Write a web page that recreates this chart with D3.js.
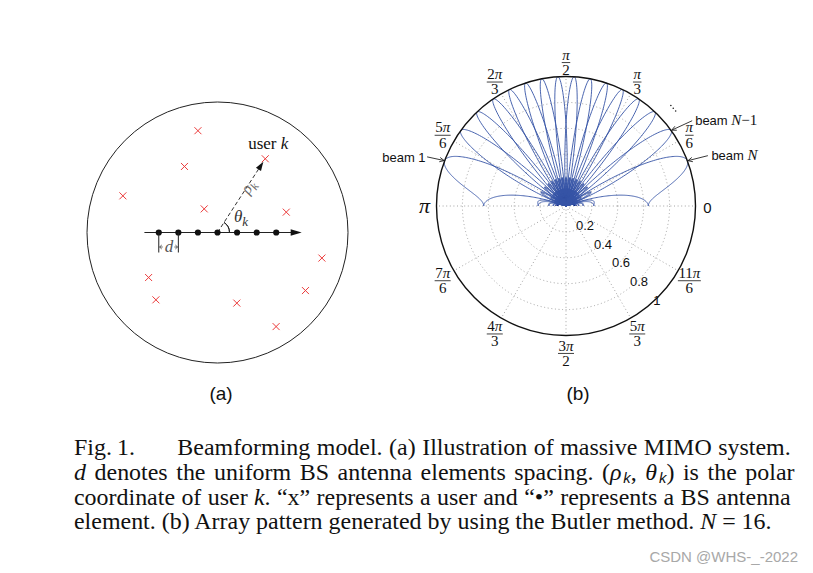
<!DOCTYPE html>
<html><head><meta charset="utf-8">
<script src="https://cdn.jsdelivr.net/npm/d3@7"></script>
<style>body{margin:0;background:#fff}svg{display:block}</style>
</head><body>
<svg id="c" width="813" height="573"></svg>
<script>
// ---------------- data ----------------
// Panel (a): user positions, in units of the cell radius (origin = array centre)
const userX = [-0.150, 0.366, -0.253, -0.725, -0.102, 0.527, 0.800, -0.528, 0.674, -0.472, 0.148, 0.449];
const userY = [ 0.780, 0.565,  0.506,  0.281,  0.181, 0.156, -0.196, -0.345, -0.445, -0.516, -0.541, -0.721];
const userKIndex = 1;
const elementIdx = [-3, -2, -1, 0, 1, 2, 3];
const elementSpacing = 0.150;          // d, in cell-radius units
const arrayAxisExtent = [-0.56, 0.645];

// Panel (b): Butler beams, N = 16, peak directions (degrees)
const N = 16;
const beamPeakDeg = [159.6, 144.3, 133.4, 124.2, 115.9, 108.2, 100.8, 93.6,
                     86.4, 79.2, 71.8, 64.1, 55.8, 46.6, 35.7, 20.4];
const angleTickDeg = [0, 30, 60, 90, 120, 150, 180, 210, 240, 270, 300, 330];
const angleTickLabels = ["0","π/6","π/3","π/2","2π/3","5π/6","π","7π/6","4π/3","3π/2","5π/3","11π/6"];
const radialTicks = [0.2, 0.4, 0.6, 0.8, 1];
const radialTickLabels = ["0.2","0.4","0.6","0.8","1"];

const captionFig = ["Fig.", "1."];
const captionLine1Rest = "Beamforming model. (a) Illustration of massive MIMO system.";
const captionLines = [
  [["d","i"],[" denotes the uniform BS antenna elements spacing. (",""],["ρ","i"],["k","sub"],[", ",""],["θ","i"],["k","sub"],[") is the polar",""]],
  [["coordinate of user ",""],["k","i"],[". “x” represents a user and “•” represents a BS antenna",""]],
  [["element. (b) Array pattern generated by using the Butler method. ",""],["N","i"],[" = 16.",""]]
];

// ---------------- drawing ----------------
const svg = d3.select("#c");
const SERIF = "'Liberation Serif','Times New Roman',serif";
const SANS = "'Liberation Sans',Arial,sans-serif";

// ===== Panel (a) =====
const aCx = 217.5, aCy = 232.5, aR = 130.5;
const ax = d3.scaleLinear().domain([-1, 1]).range([aCx - aR, aCx + aR]);
const ay = d3.scaleLinear().domain([-1, 1]).range([aCy + aR, aCy - aR]);
const gA = svg.append("g");

gA.append("circle").attr("cx", ax(0)).attr("cy", ay(0)).attr("r", ax(1) - ax(0))
  .attr("fill", "none").attr("stroke", "#222").attr("stroke-width", 1);

// array axis with arrow
const axY = ay(0);
const axEnd = ax(arrayAxisExtent[1]);
gA.append("line").attr("x1", ax(arrayAxisExtent[0])).attr("x2", axEnd - 8)
  .attr("y1", axY).attr("y2", axY).attr("stroke", "#222").attr("stroke-width", 1);
gA.append("path").attr("d", `M${axEnd},${axY}L${axEnd-11},${axY-3.3}L${axEnd-11},${axY+3.3}Z`).attr("fill", "#111");

// users (red crosses)
const users = userX.map((x, i) => ({x, y: userY[i]}));
gA.selectAll("path.user").data(users).join("path").attr("class", "user")
  .attr("transform", d => `translate(${ax(d.x)},${ay(d.y)})`)
  .attr("d", "M-3.5,-3.5L3.5,3.5M-3.5,3.5L3.5,-3.5")
  .attr("stroke", "#ec3b3b").attr("stroke-width", 1).attr("fill", "none");

// dashed arrow to user k
const uk = users[userKIndex];
const ox = ax(0), oy = ay(0);
const ukx = ax(uk.x), uky = ay(uk.y);
const ang = Math.atan2(uky - oy, ukx - ox);
const tipX = ukx - 3.5 * Math.cos(ang), tipY = uky - 3.5 * Math.sin(ang);
gA.append("line").attr("x1", ox).attr("y1", oy)
  .attr("x2", tipX - 6 * Math.cos(ang)).attr("y2", tipY - 6 * Math.sin(ang))
  .attr("stroke", "#333").attr("stroke-width", 1).attr("stroke-dasharray", "4,2.5");
{
  const L = 9, W = 3;
  const bx = tipX - L * Math.cos(ang), by = tipY - L * Math.sin(ang);
  const px = -Math.sin(ang) * W, py = Math.cos(ang) * W;
  gA.append("path").attr("d", `M${tipX},${tipY}L${bx+px},${by+py}L${bx-px},${by-py}Z`).attr("fill", "#111");
}
// theta arc
{
  const r = 12;
  const arc = d3.arc()({innerRadius: r, outerRadius: r, startAngle: Math.PI / 2 + ang, endAngle: Math.PI / 2});
  gA.append("path").attr("transform", `translate(${ox},${oy})`).attr("d", arc)
    .attr("fill", "none").attr("stroke", "#222").attr("stroke-width", 1);
}

// antenna elements
gA.selectAll("circle.el").data(elementIdx).join("circle").attr("class", "el")
  .attr("cx", d => ax(d * elementSpacing)).attr("cy", axY).attr("r", 3.1).attr("fill", "#111");

// d spacing marker
{
  const x1 = ax(elementIdx[0] * elementSpacing), x2 = ax(elementIdx[1] * elementSpacing);
  [x1, x2].forEach(x => gA.append("line").attr("x1", x).attr("x2", x).attr("y1", axY).attr("y2", axY + 20)
    .attr("stroke", "#222").attr("stroke-width", 1));
  const yy = axY + 14.5;
  gA.append("path").attr("d", `M${x1+4},${yy}L${x1+0.8},${yy}M${x1+3},${yy-2}L${x1+0.8},${yy}L${x1+3},${yy+2}`)
    .attr("stroke", "#444").attr("fill", "none").attr("stroke-width", 0.8);
  gA.append("path").attr("d", `M${x2-4},${yy}L${x2-0.8},${yy}M${x2-3},${yy-2}L${x2-0.8},${yy}L${x2-3},${yy+2}`)
    .attr("stroke", "#444").attr("fill", "none").attr("stroke-width", 0.8);
  gA.append("text").attr("x", (x1 + x2) / 2 + 0.5).attr("y", axY + 19).attr("text-anchor", "middle")
    .attr("font-family", SERIF).attr("font-style", "italic").attr("font-size", 17).attr("fill", "#555").text("d");
}

// rho_k label rotated along the dashed line
{
  const mx = ox + 0.62 * (ukx - ox) + 1, my = oy + 0.62 * (uky - oy);
  const t = gA.append("text").attr("transform", `translate(${mx},${my}) rotate(${ang * 180 / Math.PI})`)
    .attr("text-anchor", "middle").attr("dy", 5).attr("font-family", SERIF).attr("font-style", "italic")
    .attr("font-size", 16).attr("fill", "#666");
  t.append("tspan").text("ρ");
  t.append("tspan").attr("font-size", 12).attr("dy", 4).text("k");
}
// theta_k
{
  const t = gA.append("text").attr("x", ox + 16.5).attr("y", oy - 10.5)
    .attr("font-family", SERIF).attr("font-style", "italic").attr("font-size", 17).attr("fill", "#333");
  t.append("tspan").text("θ");
  t.append("tspan").attr("font-size", 13).attr("dy", 4).text("k");
}
// user k
{
  const t = gA.append("text").attr("x", ukx + 3).attr("y", uky - 10).attr("text-anchor", "middle")
    .attr("font-family", SERIF).attr("font-size", 17).attr("fill", "#111");
  t.append("tspan").text("user ");
  t.append("tspan").attr("font-style", "italic").text("k");
}

// ===== Panel (b) =====
const cx = 566, cy = 206, R = 129.5;
const rS = d3.scaleLinear().domain([0, 1]).range([0, R]);
const aS = d3.scaleLinear().domain([0, 360]).range([0, 2 * Math.PI]);
const px = (r, a) => cx + rS(r) * Math.cos(a);
const py = (r, a) => cy - rS(r) * Math.sin(a);
const gB = svg.append("g");

// grid
gB.selectAll("circle.grid").data(radialTicks.slice(0, -1)).join("circle").attr("class", "grid")
  .attr("cx", cx).attr("cy", cy).attr("r", d => rS(d)).attr("fill", "none")
  .attr("stroke", "#9a9a9a").attr("stroke-width", 0.9).attr("stroke-dasharray", "1,2.6");
gB.selectAll("line.spoke").data(angleTickDeg).join("line").attr("class", "spoke")
  .attr("x1", cx).attr("y1", cy).attr("x2", d => px(1, aS(d))).attr("y2", d => py(1, aS(d)))
  .attr("stroke", "#9a9a9a").attr("stroke-width", 0.9).attr("stroke-dasharray", "1,2.6");

// beams (array factor of an N-element half-wavelength ULA steered to each Butler beam)
const thetaSamples = d3.range(0, 180.0001, 0.2);
function afValue(thDeg, peakDeg) {
  const psi = Math.PI * (Math.cos(aS(thDeg)) - Math.cos(aS(peakDeg)));
  const den = N * Math.sin(psi / 2);
  if (Math.abs(den) < 1e-9) return 1;
  return Math.abs(Math.sin(N * psi / 2) / den);
}
const beamLine = d3.line().x(d => px(d.r, aS(d.t))).y(d => py(d.r, aS(d.t)));
const beams = beamPeakDeg.map(p => thetaSamples.map(t => ({t, r: afValue(t, p)})));
gB.selectAll("path.beam").data(beams).join("path").attr("class", "beam")
  .attr("d", beamLine).attr("fill", "none").attr("stroke", "#3553a6").attr("stroke-width", 0.9);

// outer circle
gB.append("circle").attr("cx", cx).attr("cy", cy).attr("r", rS(1)).attr("fill", "none")
  .attr("stroke", "#111").attr("stroke-width", 1.4);

// angle labels
angleTickDeg.forEach((deg, i) => {
  const a = aS(deg);
  const lab = angleTickLabels[i];
  const x = px(1.1, a), y = py(1.1, a) + 1.5 - 3 * Math.sin(a);
  if (lab === "0") {
    gB.append("text").attr("x", x - 1).attr("y", y + 5).attr("text-anchor", "middle")
      .attr("font-family", SANS).attr("font-size", 15).attr("fill", "#111").text("0");
    return;
  }
  if (lab === "π") {
    gB.append("text").attr("x", x + 1).attr("y", y + 5).attr("text-anchor", "middle")
      .attr("font-family", SERIF).attr("font-style", "italic").attr("font-size", 22).attr("fill", "#111").text("π");
    return;
  }
  const [num, den] = lab.split("/");
  const g = gB.append("g").attr("transform", `translate(${x},${y})`);
  const tn = g.append("text").attr("y", -2.3).attr("text-anchor", "middle")
    .attr("font-family", SERIF).attr("font-size", 15).attr("fill", "#111");
  const coef = num.replace("π", "");
  if (coef) tn.append("tspan").text(coef);
  tn.append("tspan").attr("font-style", "italic").text("π");
  const td = g.append("text").attr("y", 12.8).attr("text-anchor", "middle")
    .attr("font-family", SERIF).attr("font-size", 15).attr("fill", "#111").text(den);
  const w = Math.max(tn.node().getComputedTextLength(), td.node().getComputedTextLength()) + 1;
  g.append("line").attr("x1", -w / 2).attr("x2", w / 2).attr("y1", 0.5).attr("y2", 0.5)
    .attr("stroke", "#111").attr("stroke-width", 0.8);
});

// radial tick labels
radialTicks.forEach((r, i) => {
  const a = aS(-46);
  gB.append("text").attr("x", px(r, a) + 1).attr("y", py(r, a) + 5.5).attr("text-anchor", "middle")
    .attr("font-family", SANS).attr("font-size", 13).attr("fill", "#111").text(radialTickLabels[i]);
});

// beam annotations
function arrow(x1, y1, x2, y2) {
  const a = Math.atan2(y2 - y1, x2 - x1), L = 4.5, W = 2.2;
  const bx = x2 - L * Math.cos(a), by = y2 - L * Math.sin(a);
  const nx = -Math.sin(a) * W, ny = Math.cos(a) * W;
  gB.append("path").attr("d", `M${x1},${y1}L${x2},${y2}M${bx+nx},${by+ny}L${x2},${y2}L${bx-nx},${by-ny}`)
    .attr("fill", "none").attr("stroke", "#222").attr("stroke-width", 0.9);
}
{
  const t1 = {x: px(1, aS(beamPeakDeg[0])), y: py(1, aS(beamPeakDeg[0]))};
  const tN1 = {x: px(1, aS(beamPeakDeg[N - 2])), y: py(1, aS(beamPeakDeg[N - 2]))};
  const tN = {x: px(1, aS(beamPeakDeg[N - 1])), y: py(1, aS(beamPeakDeg[N - 1]))};
  gB.append("text").attr("x", t1.x - 19).attr("y", t1.y + 1.5).attr("text-anchor", "end")
    .attr("font-family", SANS).attr("font-size", 13).attr("fill", "#111").text("beam 1");
  arrow(t1.x - 17.5, t1.y - 4, t1.x - 0.5, t1.y - 0.3);

  const a2 = gB.append("text").attr("x", tN1.x + 24).attr("y", tN1.y - 5.5)
    .attr("font-family", SANS).attr("font-size", 13).attr("fill", "#111");
  a2.append("tspan").text("beam ");
  a2.append("tspan").attr("font-family", SERIF).attr("font-style", "italic").attr("font-size", 15).text("N");
  a2.append("tspan").attr("font-family", SERIF).attr("font-size", 15).text("−1");
  arrow(tN1.x + 21, tN1.y - 9.7, tN1.x + 0.6, tN1.y - 0.3);

  const a3 = gB.append("text").attr("x", tN.x + 24).attr("y", tN.y - 0.5)
    .attr("font-family", SANS).attr("font-size", 13).attr("fill", "#111");
  a3.append("tspan").text("beam ");
  a3.append("tspan").attr("font-family", SERIF).attr("font-style", "italic").attr("font-size", 15).text("N");
  arrow(tN.x + 20.5, tN.y - 5.2, tN.x + 0.6, tN.y - 0.2);

  // diagonal ellipsis between beam N-2 and N-1 labels
  [0, 1, 2].forEach(k => gB.append("circle").attr("cx", tN1.x - 0.3 + 2.4 * k).attr("cy", tN1.y - 25 + 2.8 * k)
    .attr("r", 0.8).attr("fill", "#222"));
}

// panel labels
svg.append("text").attr("x", 221).attr("y", 400).attr("text-anchor", "middle")
  .attr("font-family", SANS).attr("font-size", 19).attr("fill", "#111").text("(a)");
svg.append("text").attr("x", 578).attr("y", 400).attr("text-anchor", "middle")
  .attr("font-family", SANS).attr("font-size", 19).attr("fill", "#111").text("(b)");

// ===== caption =====
const capX = 74, capRight = 790.7;
const capY = [455, 479.8, 504.6, 529.4];
const capG = svg.append("g");
function buildLine(segs, x, y, fs) {
  const t = capG.append("text").attr("x", x).attr("y", y).attr("font-family", SERIF)
    .attr("font-size", fs).attr("fill", "#111");
  let shifted = false;
  segs.forEach(([txt, st]) => {
    const s = t.append("tspan").text(txt);
    if (st === "i") s.attr("font-style", "italic");
    if (st === "sub") {
      s.attr("font-style", "italic").attr("font-family", SANS).attr("font-size", fs * 0.62)
        .attr("dy", fs * 0.12).attr("dx", fs * 0.08);
      shifted = true;
    } else if (shifted) { s.attr("dy", -fs * 0.12); shifted = false; }
  });
  return t;
}
function justify(t, target) {
  const w = t.node().getComputedTextLength();
  const nSp = (t.text().match(/ /g) || []).length;
  if (nSp > 0) t.attr("word-spacing", (target - w) / nSp);
}
// pick a font size so the last (unjustified) line spans as in the reference
let fs = 20;
{
  const probe = buildLine(captionLines[2], capX, capY[3], fs);
  const w = probe.node().getComputedTextLength();
  probe.remove();
  fs = Math.max(17, Math.min(24, fs * (771.7 - capX) / w));
}
buildLine([[captionFig[0], ""]], capX, capY[0], fs);
buildLine([[captionFig[1], ""]], 117, capY[0], fs);
const l1 = buildLine([[captionLine1Rest, ""]], 177.3, capY[0], fs);
justify(l1, capRight - 177.3);
const l2 = buildLine(captionLines[0], capX, capY[1], fs); justify(l2, capRight - capX);
const l3 = buildLine(captionLines[1], capX, capY[2], fs); justify(l3, capRight - capX);
buildLine(captionLines[2], capX, capY[3], fs);

// watermark
svg.append("text").attr("x", 798).attr("y", 562).attr("text-anchor", "end")
  .attr("font-family", SANS).attr("font-size", 15).attr("fill", "#a8a8a8").text("CSDN @WHS-_-2022");
</script>
</body></html>
